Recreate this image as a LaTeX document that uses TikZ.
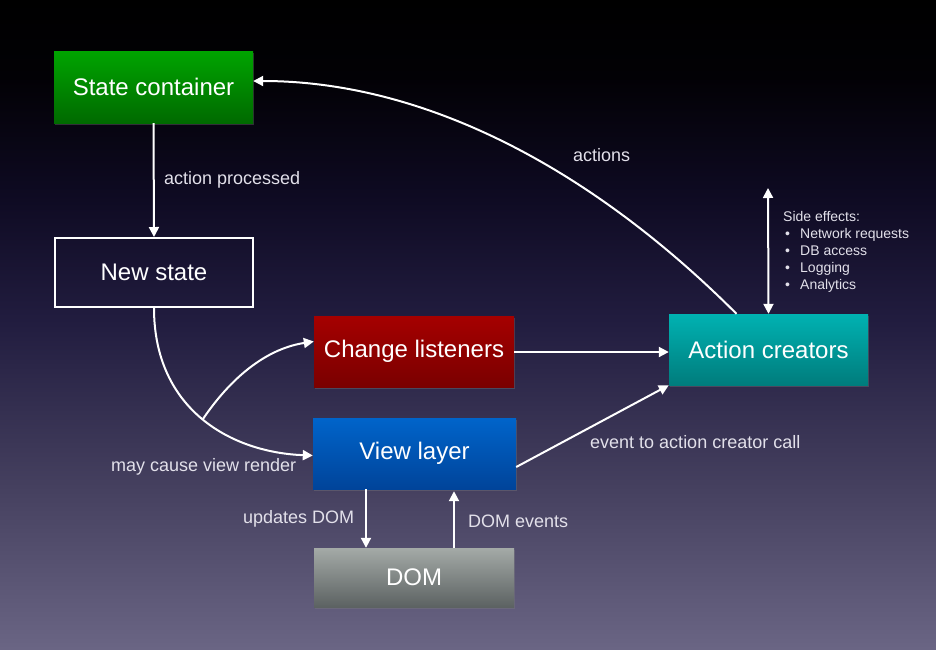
\documentclass[tikz,border=0pt]{standalone}
\usepackage{fontspec}
\setmainfont{Liberation Sans}
\usetikzlibrary{arrows.meta,shadows}
\definecolor{bgA}{HTML}{6A6584}
\definecolor{bgB}{HTML}{45405F}
\definecolor{bgC}{HTML}{221D40}
\definecolor{bgD}{HTML}{0E0A22}
\definecolor{bgE}{HTML}{020105}
\definecolor{labelc}{HTML}{E2E0EA}
\definecolor{grnT}{HTML}{00A400}
\definecolor{grnB}{HTML}{006A00}
\definecolor{redT}{HTML}{A50000}
\definecolor{redB}{HTML}{7A0000}
\definecolor{bluT}{HTML}{0064CA}
\definecolor{bluB}{HTML}{00449A}
\definecolor{tealT}{HTML}{00B2B2}
\definecolor{tealB}{HTML}{007C7C}
\definecolor{gryT}{HTML}{A4AAA7}
\definecolor{gryB}{HTML}{5C6262}
\pgfdeclareverticalshading{bgsh}{100bp}{color(0bp)=(bgA); color(25bp)=(bgA); color(37.5bp)=(bgB); color(50bp)=(bgC); color(60bp)=(bgD); color(69bp)=(bgE); color(75bp)=(black); color(100bp)=(black)}
\tikzset{
  box/.style={minimum width=200pt, minimum height=71pt, inner sep=0pt, text=white,
    font=\fontsize{24}{28}\selectfont,
    drop shadow={shadow xshift=1pt, shadow yshift=-2pt, opacity=0.35}},
  lbl/.style={text=labelc, font=\fontsize{18}{22}\selectfont, inner sep=0pt, anchor=west},
  arr/.style={draw=white, line width=2pt, -{Triangle[length=10pt,width=10pt]}},
  arrboth/.style={draw=white, line width=2pt, {Triangle[length=10pt,width=10pt]}-{Triangle[length=10pt,width=10pt]}}
}
\begin{document}
\begin{tikzpicture}[x=1pt,y=-1pt]
\useasboundingbox (0,0) rectangle (936,649);
\shade[shading=bgsh] (0,0) rectangle (936,649);

\node[box, minimum width=199pt, minimum height=72pt, top color=grnT, bottom color=grnB] (sc) at (153.5,87) {State container};
\node[minimum width=198pt, minimum height=69pt, inner sep=0pt, draw=white, line width=2pt, text=white, font=\fontsize{24}{28}\selectfont] (ns) at (154,272.5) {New state};
\node[box, top color=redT, bottom color=redB] (cl) at (414,351.5) {Change listeners};
\node[box, minimum width=203pt, top color=bluT, bottom color=bluB] (vl) at (414.5,453.5) {View layer};
\node[box, minimum width=199pt, top color=tealT, bottom color=tealB] (ac) at (768.5,349.5) {Action creators};
\node[box, minimum height=59pt, top color=gryT, bottom color=gryB] (dom) at (414,577.5) {DOM};

% state container -> new state
\draw[arr] (sc.south) -- (ns.north);
\node[lbl] (lap) at (164,180) {action processed};

% new state -> view layer, branch to change listeners
\draw[arr] (ns.south) .. controls +(0,102) and +(-81,-3) .. ([yshift=-2pt]vl.west) coordinate[pos=0.5] (br);
\draw[arr] (br) .. controls +(32,-47) and +(-43,6.5) .. ([yshift=10pt]cl.west);
\node[lbl] (lmc) at (111,467) {may cause view render};

% change listeners -> action creators
\draw[arr] ([yshift=-0.5pt]cl.east) -- ([yshift=-0.5pt]cl.east -| ac.west);

% view layer -> action creators
\draw[arr] ([yshift=-13.5pt]vl.east) -- (ac.south west);
\node[lbl] (lev) at (590,442) {event to action creator call};

% action creators -> state container
\draw[arr] ([xshift=-32pt]ac.north) .. controls +(-150,-150) and +(167,0) .. ([yshift=6pt]sc.east);
\node[lbl] (lact) at (573,155) {actions};

% side effects
\coordinate (setop) at (768,188);
\draw[arrboth] (ac.north) -- (setop);
\node[anchor=north west, align=left, inner sep=0pt, text=labelc, font=\fontsize{14}{17}\selectfont] (se) at (783,211.5)
  {Side effects:\\
   \hspace*{2pt}\makebox[15pt][l]{\textbullet}Network requests\\
   \hspace*{2pt}\makebox[15pt][l]{\textbullet}DB access\\
   \hspace*{2pt}\makebox[15pt][l]{\textbullet}Logging\\
   \hspace*{2pt}\makebox[15pt][l]{\textbullet}Analytics};

% view layer <-> DOM
\draw[arr] ([xshift=-48.5pt]vl.south) -- ([xshift=-48.5pt]vl.south |- dom.north);
\node[lbl] (lud) at (243,519) {updates DOM};
\draw[arr] ([xshift=40pt]dom.north) -- ([xshift=40pt,yshift=-2pt]dom.north |- vl.south);
\node[lbl] (lde) at (468,521) {DOM events};
\end{tikzpicture}
\end{document}
